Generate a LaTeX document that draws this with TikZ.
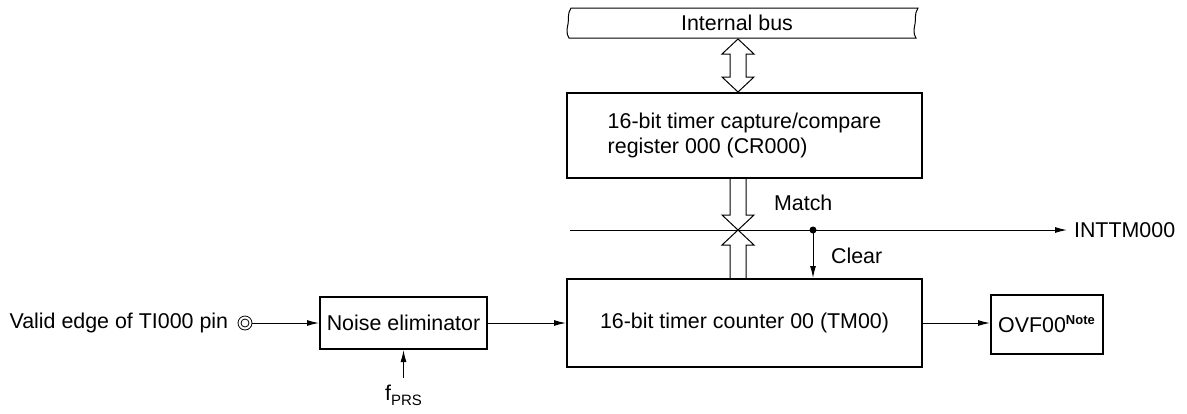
\documentclass[tikz,border=0pt]{standalone}
\usepackage{fontspec}
\setmainfont{Liberation Sans}
\usetikzlibrary{arrows.meta,positioning}

\begin{document}
\begin{tikzpicture}[x=0.5pt,y=-0.5pt,
    every node/.style={font=\fontsize{10.7}{12.5}\selectfont},
    block/.style={draw,line width=1pt,inner sep=0pt,align=left},
    sig/.style={line width=0.5pt,-{Latex[length=6pt,width=3pt]}},
    wide/.style={line width=0.5pt}]
\useasboundingbox (0,0) rectangle (1187,413);
\draw[wide,fill=white] (571,8) -- (918,8) .. controls (914,14) and (916,20) .. (915,24)
  .. controls (914,28) and (913,34) .. (916,38) -- (569,38)
  .. controls (566,34) and (567,28) .. (568,24) .. controls (569,20) and (567,14) .. (571,8) -- cycle;
\node (bus) at (737,23) {Internal bus};
\node[block,minimum width=177.5pt,minimum height=42.5pt] (cr) at (744.5,135.5)
  {16-bit timer capture/compare\\register 000 (CR000)};
\node[block,minimum width=177.5pt,minimum height=44pt] (tm) at (744.5,323)
  {16-bit timer counter 00 (TM00)};
\node[block,minimum width=83.5pt,minimum height=26pt] (noise) at (403.5,323) {Noise eliminator};
\node[block,minimum width=56pt,minimum height=29.5pt] (ovf) at (1047,324.5)
  {OVF00\textsuperscript{\fontsize{6.5}{7}\selectfont\bfseries Note}};
\node[circle,draw,line width=0.4pt,minimum size=7pt,inner sep=0pt] (pin) at (245,323) {};
\draw[line width=0.4pt] (pin.center) circle (2pt);
\node[left=1.2pt of pin] (pinlbl) {Valid edge of TI000 pin};
\node[anchor=north] (fprs) at (403.5,378) {f\raisebox{-0.4ex}{\fontsize{7.5}{8}\selectfont PRS}};
\draw[wide] (738,39) -- (754,54) -- (746,54) -- (746,77) -- (754,77) -- (738,92)
  -- (722,77) -- (730,77) -- (730,54) -- (722,54) -- cycle;
\coordinate (cross) at (738,230);
\draw[wide] (730,179) -- (730,215) -- (722,215) -- (cross) -- (754,215) -- (746,215) -- (746,179);
\draw[wide] (730,278) -- (730,245) -- (722,245) -- (cross) -- (754,245) -- (746,245) -- (746,278);
\coordinate (tap) at (570,230);
\coordinate (dot) at (813,230);
\node[anchor=west] (int) at (1067,230) {INTTM000};
\draw[sig] (tap) -- (int);
\fill (dot) circle (1.75pt);
\draw[sig] (dot) -- (dot |- tm.north);
\node[anchor=west] (match) at (767,203) {Match};
\node[anchor=west] (clear) at (824,256) {Clear};
\draw[sig] (pin) -- (noise);
\draw[sig] (noise) -- (tm);
\draw[sig] (tm.east) -- (tm.east -| ovf.west);
\draw[sig] (fprs) -- (noise);
\end{tikzpicture}
\end{document}
